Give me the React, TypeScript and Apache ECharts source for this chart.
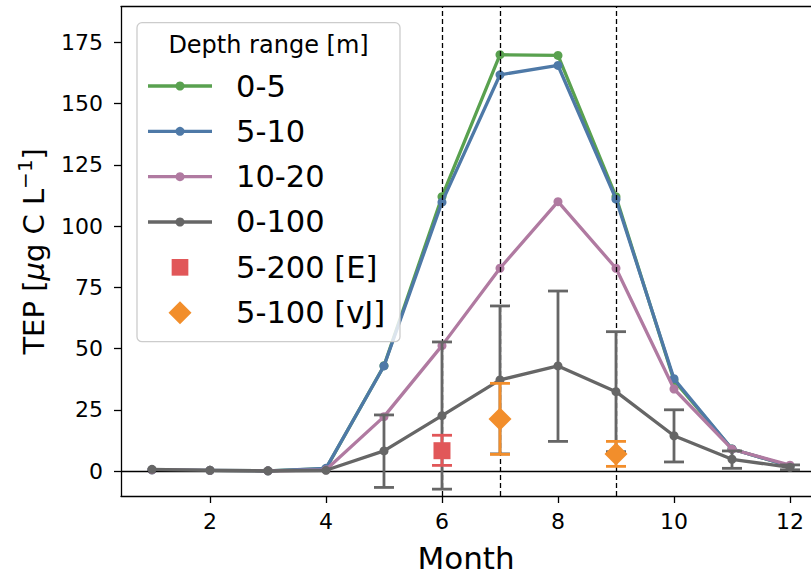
import React, { useEffect, useRef } from 'react';
import * as echarts from 'echarts';

const months = [1, 2, 3, 4, 5, 6, 7, 8, 9, 10, 11, 12];
const tep0to5 = [0.5, 0.3, 0.1, 1.0, 43.0, 112.0, 170.0, 169.7, 112.0, 37.0, 9.0, 2.0];
const tep5to10 = [0.5, 0.3, 0.1, 1.1, 42.9, 109.8, 161.8, 165.6, 111.0, 37.7, 9.0, 2.0];
const tep10to20 = [0.5, 0.3, 0.1, 0.5, 22.2, 51.2, 82.8, 110.0, 82.8, 33.5, 8.9, 2.4];
const tep0to100 = [0.7, 0.3, 0.1, 0.3, 8.2, 22.6, 37.2, 42.9, 32.4, 14.4, 4.8, 1.5];
const tep0to100Low = [null, null, null, null, -6.7, -7.4, 7.0, 12.1, 7.9, 3.7, 1.1, 0.5];
const tep0to100High = [null, null, null, null, 22.9, 52.7, 67.4, 73.5, 56.9, 25.0, 8.2, 2.5];

const eMonths = [6];
const eValues = [8.3];
const eLow = [2.3];
const eHigh = [14.6];

const vjMonths = [7, 9];
const vjValues = [21.2, 6.9];
const vjLow = [6.8, 1.9];
const vjHigh = [35.8, 12.1];

const dashedMonths = [6, 7, 9];
const xTicks = [2, 4, 6, 8, 10, 12];
const yTicks = [0, 25, 50, 75, 100, 125, 150, 175];

const legendTitle = 'Depth range [m]';
const seriesNames = ['0-5', '5-10', '10-20', '0-100', '5-200 [E]', '5-100 [vJ]'];
const colors = ['#59a14f', '#4e79a7', '#b07aa1', '#666666', '#e15759', '#f28e2b'];

const FONT = 'DejaVu Sans';

function errorBarSeries(name: string, xs: number[], lows: (number | null)[], highs: (number | null)[], color: string, z: number) {
  const data: number[][] = [];
  xs.forEach((x, i) => {
    if (lows[i] != null && highs[i] != null) data.push([x, lows[i] as number, highs[i] as number]);
  });
  return {
    type: 'custom',
    name,
    z,
    silent: true,
    data,
    encode: { x: 0, y: [1, 2] },
    renderItem: (params: any, api: any) => {
      const x = api.value(0);
      const lo = api.coord([x, api.value(1)]);
      const hi = api.coord([x, api.value(2)]);
      const hw = 10;
      const style = { stroke: color, lineWidth: 2.8 };
      return {
        type: 'group',
        children: [
          { type: 'line', shape: { x1: lo[0], y1: lo[1], x2: hi[0], y2: hi[1] }, style },
          { type: 'line', shape: { x1: lo[0] - hw, y1: lo[1], x2: lo[0] + hw, y2: lo[1] }, style },
          { type: 'line', shape: { x1: hi[0] - hw, y1: hi[1], x2: hi[0] + hw, y2: hi[1] }, style },
        ],
      };
    },
  };
}

function lineSeries(name: string, vals: number[], color: string, z: number) {
  return {
    type: 'line',
    name,
    z,
    data: months.map((m, i) => [m, vals[i]]),
    symbol: 'circle',
    symbolSize: 9,
    showSymbol: true,
    lineStyle: { color, width: 3.3 },
    itemStyle: { color },
    silent: true,
  };
}

function buildLegend() {
  const x0 = 137, y0 = 22.7, w = 263, h = 319;
  const els: any[] = [
    {
      type: 'rect', z: 100,
      shape: { x: x0, y: y0, width: w, height: h, r: 5 },
      style: { fill: 'rgba(255,255,255,0.8)', stroke: '#cccccc', lineWidth: 1.3 },
    },
    {
      type: 'text', z: 101, x: 268.5, y: 45,
      style: { text: legendTitle, fontSize: 24, fontFamily: FONT, fill: '#000', align: 'center', verticalAlign: 'middle' },
    },
  ];
  const firstY = 86, step = 45.33;
  seriesNames.forEach((nm, i) => {
    const cy = firstY + i * step;
    const c = colors[i];
    if (i < 4) {
      els.push({ type: 'line', z: 101, shape: { x1: 148, y1: cy, x2: 212, y2: cy }, style: { stroke: c, lineWidth: 3.3 } });
      els.push({ type: 'circle', z: 102, shape: { cx: 180, cy, r: 4.5 }, style: { fill: c } });
    } else if (i === 4) {
      els.push({ type: 'rect', z: 101, shape: { x: 180 - 8.35, y: cy - 8.35, width: 16.7, height: 16.7 }, style: { fill: c } });
    } else {
      els.push({ type: 'polygon', z: 101, shape: { points: [[180, cy - 11.5], [191.5, cy], [180, cy + 11.5], [168.5, cy]] }, style: { fill: c } });
    }
    els.push({
      type: 'text', z: 101, x: 236, y: cy,
      style: { text: nm, fontSize: 30.5, fontFamily: FONT, fill: '#000', align: 'left', verticalAlign: 'middle' },
    });
  });
  return els;
}

export default function App() {
  const ref = useRef<HTMLDivElement>(null);
  useEffect(() => {
    if (!ref.current) return;
    const chart = echarts.init(ref.current, null, { renderer: 'svg' });
    const xMin = 0.466, xMax = 12.362;
    const yMin = -10.2, yMax = 189.6;
    const option: any = {
      animation: false,
      backgroundColor: '#ffffff',
      grid: { left: 121, right: 0, top: 6.7, bottom: 78, containLabel: false, outerBoundsMode: 'none' },
      xAxis: [
        {
          type: 'value', min: xMin, max: xMax, position: 'bottom',
          name: 'Month', nameLocation: 'middle', nameGap: 46,
          nameTextStyle: { fontSize: 31, fontFamily: FONT, color: '#000' },
          axisLine: { show: true, onZero: false, lineStyle: { color: '#000', width: 1.3 } },
          axisTick: { show: true, length: 7, lineStyle: { color: '#000', width: 1.3 }, customValues: xTicks },
          axisLabel: { show: true, margin: 14, fontSize: 22, fontFamily: FONT, color: '#000', customValues: xTicks },
          splitLine: { show: false },
        },
        {
          type: 'value', min: xMin, max: xMax, position: 'top',
          axisLine: { show: true, onZero: false, lineStyle: { color: '#000', width: 1.3 } },
          axisTick: { show: false }, axisLabel: { show: false }, splitLine: { show: false },
        },
      ],
      yAxis: {
        type: 'value', min: yMin, max: yMax,
        name: '{n|TEP [}{i|μ}{n|g C L}{s|−1}{n|]}',
        nameLocation: 'middle', nameGap: 68, nameRotate: 90,
        nameTextStyle: {
          fontSize: 29, fontFamily: FONT, color: '#000',
          rich: {
            n: { fontSize: 29, fontFamily: FONT, color: '#000', lineHeight: 38 },
            i: { fontSize: 29, fontFamily: FONT, color: '#000', fontStyle: 'italic', lineHeight: 38 },
            s: { fontSize: 20, fontFamily: FONT, color: '#000', verticalAlign: 'top', lineHeight: 20 },
          },
        },
        axisLine: { show: true, onZero: false, lineStyle: { color: '#000', width: 1.3 } },
        axisTick: { show: true, length: 7, lineStyle: { color: '#000', width: 1.3 }, customValues: yTicks },
        axisLabel: { show: true, margin: 18, fontSize: 22, fontFamily: FONT, color: '#000', customValues: yTicks },
        splitLine: { show: false },
      },
      graphic: { elements: buildLegend() },
      series: [
        {
          type: 'line', name: 'zero', data: [], z: 1, silent: true,
          markLine: {
            silent: true, symbol: 'none', label: { show: false },
            lineStyle: { color: '#000', width: 1.3, type: 'solid' },
            data: [{ yAxis: 0 }],
          },
        },
        lineSeries(seriesNames[0], tep0to5, colors[0], 2),
        lineSeries(seriesNames[1], tep5to10, colors[1], 3),
        lineSeries(seriesNames[2], tep10to20, colors[2], 4),
        errorBarSeries('0-100 err', months, tep0to100Low, tep0to100High, colors[3], 5),
        lineSeries(seriesNames[3], tep0to100, colors[3], 5),
        errorBarSeries('E err', eMonths, eLow, eHigh, colors[4], 6),
        {
          type: 'scatter', name: seriesNames[4], z: 6, silent: true,
          data: eMonths.map((m, i) => [m, eValues[i]]),
          symbol: 'rect', symbolSize: 17, itemStyle: { color: colors[4], opacity: 1 },
        },
        errorBarSeries('vJ err', vjMonths, vjLow, vjHigh, colors[5], 7),
        {
          type: 'scatter', name: seriesNames[5], z: 7, silent: true,
          data: vjMonths.map((m, i) => [m, vjValues[i]]),
          symbol: 'diamond', symbolSize: 23, itemStyle: { color: colors[5], opacity: 1 },
        },
        {
          type: 'line', name: 'dashed', data: [], z: 20, silent: true,
          markLine: {
            silent: true, symbol: 'none', label: { show: false },
            lineStyle: { color: '#000', width: 1.3, type: [5, 3] },
            data: dashedMonths.map((m) => ({ xAxis: m })),
          },
        },
      ],
    };
    chart.setOption(option);
    return () => chart.dispose();
  }, []);
  return <div ref={ref} style={{ position: 'fixed', left: 0, top: 0, width: 811, height: 574 }} />;
}
